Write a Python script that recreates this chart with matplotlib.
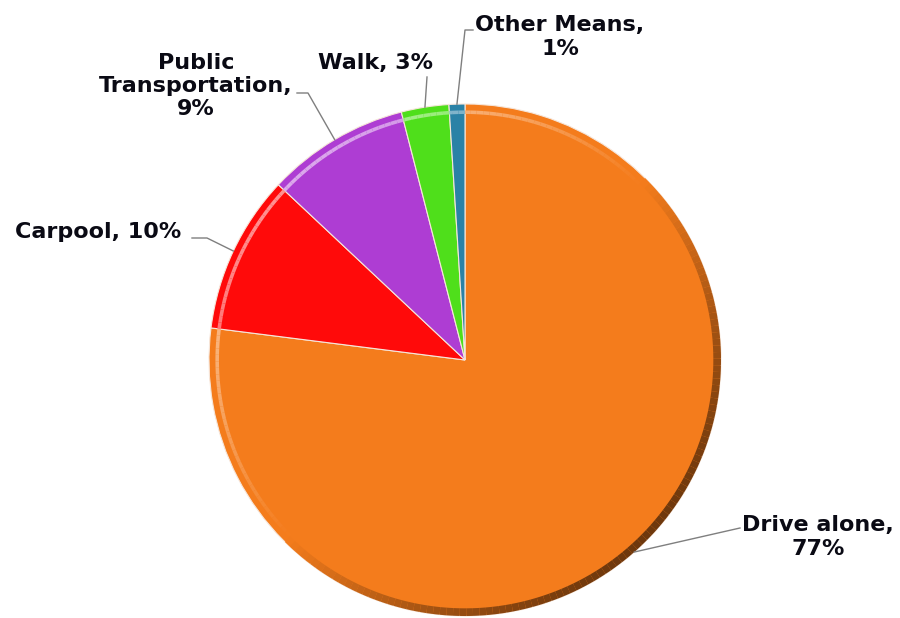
import matplotlib.pyplot as plt
import matplotlib.colors as mcolors
from matplotlib.patches import Wedge
import numpy as np

modes = ['Drive alone', 'Carpool', 'Public\nTransportation', 'Walk', 'Other Means']
shares = [77, 10, 9, 3, 1]
seps = ['\n', ' ', '\n', ' ', '\n']
colors = ['#F47C1C', '#FF0A0A', '#AE3DD3', '#4FDF1B', '#2A82A6']

# label centres and leader elbows in pixel space (x from left, y from top)
label_pos = [(818, 537), (98, 232), (196, 86), (376, 63), (560, 37)]
elbows = [[(740, 528)],
          [(207, 238), (192, 238)],
          [(308, 93), (297, 93)],
          [(427, 77)],
          [(465, 30), (473, 30)]]

W, H = 900, 618
cx, cy, R = 465, 360, 256

fig = plt.figure(figsize=(W / 100, H / 100), dpi=100)
ax = fig.add_axes([(cx - R) / W, (H - cy - R) / H, 2 * R / W, 2 * R / H])


def px(x, y):
    return (x - cx) / R, (cy - y) / R


wedges, _ = ax.pie(shares, colors=colors, startangle=90, counterclock=False,
                   radius=1.0, wedgeprops=dict(edgecolor='#f6e6da', linewidth=0.8))

# fake bevel: rim shaded dark toward lower right, light toward upper left
step = 1.5
for w, c in zip(wedges, colors):
    base = np.array(mcolors.to_rgb(c))
    t = w.theta1
    while t < w.theta2 - 1e-6:
        t2 = min(t + step, w.theta2)
        k = np.cos(np.deg2rad((t + t2) / 2 - 135))  # +1 upper left, -1 lower right
        if k < 0:
            rim = base * (1 + 0.55 * k)
            ax.add_patch(Wedge((0, 0), 1.0, t, t2, width=0.03, color=rim, lw=0))
        else:
            hi = base + (1 - base) * 0.55 * k
            ax.add_patch(Wedge((0, 0), 0.975, t, t2, width=0.014, color=hi, lw=0))
        t = t2

ax.set_xlim(-1, 1)
ax.set_ylim(-1, 1)
ax.set_aspect('equal')
ax.axis('off')

for w, name, s, sep, pos, elb in zip(wedges, modes, shares, seps, label_pos, elbows):
    mid = np.deg2rad((w.theta1 + w.theta2) / 2)
    xs = [np.cos(mid)] + [px(*p)[0] for p in elb]
    ys = [np.sin(mid)] + [px(*p)[1] for p in elb]
    ax.plot(xs, ys, color='#7f7f7f', lw=1, clip_on=False)
    tx, ty = px(*pos)
    ax.text(tx, ty, f"{name},{sep}{s}%", ha='center', va='center', fontsize=16,
            fontweight='bold', family='DejaVu Sans', color='#0a0a14',
            linespacing=1.2, clip_on=False)

fig.savefig('out.png', dpi=100, facecolor='white')
